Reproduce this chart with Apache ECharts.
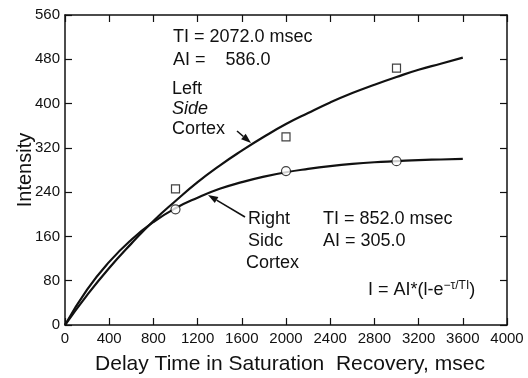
<!DOCTYPE html>
<html><head><meta charset="utf-8">
<script src="https://cdn.jsdelivr.net/npm/echarts@6/dist/echarts.min.js"></script>
<style>html,body{margin:0;padding:0;background:#fff}#c{width:528px;height:378px}</style>
</head><body><div id="c"></div>
<script>
// Curve sample times (msec) and intensities
var curveTimes = [0,200,400,600,800,1000,1200,1400,1600,1800,2000,2200,2400,2600,2800,3000,3200,3400,3600];
var leftCurve  = [0,54,103,147,188,224,258,288,315,340,363,383,402,419,434,448,461,472,483];
var rightCurve = [0,64,114,154,186,211,230,246,258,268,276,282,287,291,294,296,298,299,300];
// Measured points
var pointTimes = [1000,2000,3000];
var leftPoints  = [246,340,464];
var rightPoints = [209,278,296];
// Axis ticks
var xTicks = [0,400,800,1200,1600,2000,2400,2800,3200,3600,4000];
var yTicks = [0,80,160,240,320,400,480,560];

function pairs(xs, ys){ return xs.map(function(x,i){ return [x, ys[i]]; }); }

var font = 'Liberation Sans, Arial, sans-serif';
var chart = echarts.init(document.getElementById('c'), null, {renderer:'canvas'});
function axLine(){ return {show:true, onZero:false, lineStyle:{color:'#111', width:1.5}}; }
function tk(){ return {show:true, inside:true, length:7, lineStyle:{color:'#111', width:1.2}}; }

function arrow(x1,y1,x2,y2){
  var dx=x2-x1, dy=y2-y1, L=Math.sqrt(dx*dx+dy*dy), ux=dx/L, uy=dy/L;
  var hl=10, hw=3.5, bx=x2-ux*hl, by=y2-uy*hl;
  return [
    {type:'line', shape:{x1:x1,y1:y1,x2:bx,y2:by}, style:{stroke:'#111', lineWidth:1.6}},
    {type:'polygon', shape:{points:[[x2,y2],[bx-uy*hw,by+ux*hw],[bx+uy*hw,by-ux*hw]]}, style:{fill:'#111'}}
  ];
}
function txt(x,y,s,italic){ return {type:'text', left:x, top:y, style:{text:s, font:(italic?'italic ':'')+'18px '+font, fill:'#111'}}; }

var graphics = [
  txt(173,28,'TI = 2072.0 msec'),
  txt(173,51,'AI =    586.0'),
  txt(172,80,'Left'),
  txt(172,100,'Side',true),
  txt(172,120,'Cortex'),
  txt(248,210,'Right'),
  txt(248,232,'Sidc'),
  txt(246,254,'Cortex'),
  txt(323,210,'TI = 852.0 msec'),
  txt(323,232,'AI = 305.0'),
  {type:'text', left:368, top:280, style:{
    rich:{n:{fontSize:18, fontFamily:font, fill:'#111'}, s:{fontSize:12, fontFamily:font, fill:'#111', verticalAlign:'top', padding:[0,0,9,0]}},
    text:'{n|I = AI*(l-e}{s|−τ/TI}{n|)}'}}
].concat(arrow(237,131,251,143)).concat(arrow(245,217,208,195));

chart.setOption({
  animation:false,
  backgroundColor:'#fff',
  grid:{left:65, right:21, top:15, bottom:53, containLabel:false, outerBoundsMode:'none'},
  xAxis:[
    {type:'value', min:xTicks[0], max:xTicks[xTicks.length-1], interval:400, position:'bottom',
     axisLine:axLine(), axisTick:tk(), splitLine:{show:false},
     axisLabel:{color:'#111', fontSize:15, fontFamily:font, margin:6, formatter:function(v){return String(v);}},
     name:'Delay Time in Saturation  Recovery, msec', nameLocation:'middle', nameGap:29,
     nameTextStyle:{color:'#111', fontSize:21, fontFamily:font, padding:[0,0,0,8]}},
    {type:'value', min:0, max:4000, interval:400, position:'top',
     axisLine:axLine(), axisTick:tk(), axisLabel:{show:false}, splitLine:{show:false}}
  ],
  yAxis:[
    {type:'value', min:yTicks[0], max:yTicks[yTicks.length-1], interval:80, position:'left',
     axisLine:axLine(), axisTick:tk(), splitLine:{show:false},
     axisLabel:{color:'#111', fontSize:15, fontFamily:font, margin:5},
     name:'Intensity', nameLocation:'middle', nameGap:30, nameRotate:90, nameMoveOverlap:false,
     nameTextStyle:{color:'#111', fontSize:20, fontFamily:font}},
    {type:'value', min:0, max:560, interval:80, position:'right',
     axisLine:axLine(), axisTick:tk(), axisLabel:{show:false}, splitLine:{show:false}}
  ],
  series:[
    {type:'line', data:pairs(curveTimes,leftCurve), smooth:true, showSymbol:false,
     lineStyle:{color:'#111', width:2.2}, z:2},
    {type:'line', data:pairs(curveTimes,rightCurve), smooth:true, showSymbol:false,
     lineStyle:{color:'#111', width:2.2}, z:2},
    {type:'scatter', data:pairs(pointTimes,leftPoints), symbol:'rect', symbolSize:8,
     itemStyle:{color:'#fff', borderColor:'#111', borderWidth:1.2}, z:3},
    {type:'scatter', data:pairs(pointTimes,rightPoints), symbol:'circle', symbolSize:9,
     itemStyle:{color:'#fff', borderColor:'#111', borderWidth:1.2}, z:3}
  ],
  graphic:graphics
});
</script></body></html>
